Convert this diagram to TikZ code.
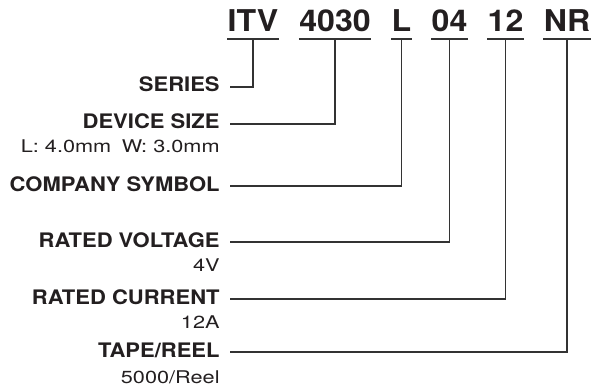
\documentclass[tikz,border=0pt]{standalone}
\usepackage{fontspec}
\setmainfont{TeX Gyre Heros}
\newfontfamily\codefont[FakeStretch=1.07]{TeX Gyre Heros}
\newfontfamily\lblfont[FakeStretch=1.1]{TeX Gyre Heros}
\newfontfamily\subfont[FakeStretch=1.24]{TeX Gyre Heros}
\usepackage{xcolor}
\definecolor{ink}{HTML}{231F20}
\definecolor{wire}{HTML}{333333}
\usetikzlibrary{positioning}

\begin{document}
\begin{tikzpicture}[x=1pt,y=-1pt,thick,
    code/.style={inner sep=0pt,anchor=base,text=ink,font=\codefont\bfseries\fontsize{30}{30}\selectfont},
    lbl/.style={inner sep=0pt,anchor=base east,text=ink,font=\lblfont\bfseries\fontsize{20}{20}\selectfont},
    sub/.style={inner sep=0pt,anchor=base east,text=ink,font=\subfont\fontsize{17.5}{17.5}\selectfont},
    wire line/.style={draw=wire,line width=1.3pt}]
    \useasboundingbox (0,0) rectangle (593,390);

    % part number
    \node[code] (itv) at (253,32) {ITV};
    \node[code] (size) at (335,32) {4030};
    \node[code] (comp) at (401.5,32) {L};
    \node[code] (volt) at (449.5,32) {04};
    \node[code] (curr) at (505.5,32) {12};
    \node[code] (tape) at (567,32) {NR};

    % labels
    \node[lbl] (series) at (220,92) {SERIES};
    \node[lbl] (dsize) at (220,129) {DEVICE SIZE};
    \node[sub] (dsizev) at ([yshift=-24pt]dsize.base east) {L: 4.0mm\hspace{0.6em}W: 3.0mm};
    \node[lbl] (csym) at (220,191) {COMPANY SYMBOL};
    \node[lbl] (rvolt) at (220,247) {RATED VOLTAGE};
    \node[sub] (rvoltv) at ([yshift=-24pt]rvolt.base east) {4V};
    \node[lbl] (rcurr) at (220,304) {RATED CURRENT};
    \node[sub] (rcurrv) at ([yshift=-24pt]rcurr.base east) {12A};
    \node[lbl] (reel) at (220,357) {TAPE/REEL};
    \node[sub] (reelv) at ([yshift=-26pt]reel.base east) {5000/Reel};

    % underlines and leaders
    \foreach \c/\l in {itv/series,size/dsize,comp/csym,volt/rvolt,curr/rcurr,tape/reel}{
        \draw[wire line] ([yshift=-7pt]\c.base west) -- ([yshift=-7pt]\c.base east);
        \draw[wire line] ([xshift=10pt,yshift=5pt]\l.base east) -| ([yshift=-7pt]\c.base);
    }
\end{tikzpicture}
\end{document}
